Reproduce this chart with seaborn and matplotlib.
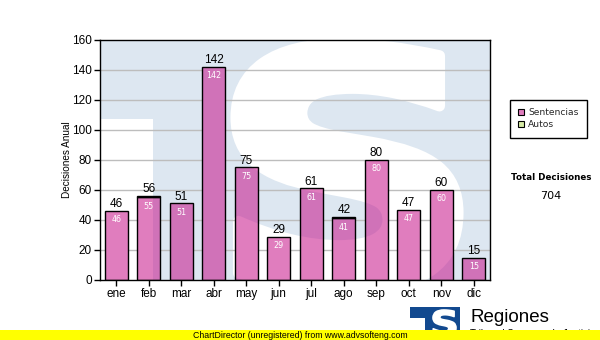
import matplotlib
matplotlib.use("Agg")
import matplotlib.pyplot as plt
import pandas as pd
import seaborn as sns
from matplotlib.textpath import TextPath
from matplotlib.font_manager import FontProperties
from matplotlib.patches import PathPatch, Rectangle, Patch
from matplotlib.transforms import Affine2D
from matplotlib.collections import LineCollection

# Monthly decisions
meses = ["ene", "feb", "mar", "abr", "may", "jun", "jul", "ago", "sep", "oct", "nov", "dic"]
sentencias = [46, 55, 51, 142, 75, 29, 61, 41, 80, 47, 60, 15]
autos = [0, 1, 0, 0, 0, 0, 0, 1, 0, 0, 0, 0]
totales = [s + a for s, a in zip(sentencias, autos)]
y_ticks = [0, 20, 40, 60, 80, 100, 120, 140, 160]
series_names = ["Sentencias", "Autos"]

PINK = (0.78, 0.07, 0.54, 0.55)
GREEN = (0.71, 0.86, 0.36, 0.55)
WALL = "#dde7f1"
BAR_W = 0.72

sns.set_theme(style="white")
plt.rcParams["font.family"] = ["Liberation Sans", "DejaVu Sans"]

fig = plt.figure(figsize=(6, 3.4), dpi=100)
fig.patch.set_facecolor("white")
ax = fig.add_axes([100 / 600, 60 / 340, 390 / 600, 240 / 340])


def s_glyph(x0, y0, x1, y1, transform, color, zorder, stroke=0.0):
    """Bold 'S' outline stretched into the box (x0, y0)-(x1, y1)."""
    tp = TextPath((0, 0), "S", size=1,
                  prop=FontProperties(family="DejaVu Sans", weight="bold"))
    ext = tp.get_extents()
    tr = (Affine2D().translate(-ext.x0, -ext.y0)
          .scale((x1 - x0) / ext.width, (y1 - y0) / ext.height)
          .translate(x0, y0))
    return PathPatch(tr.transform_path(tp), facecolor=color,
                     edgecolor=color if stroke else "none", linewidth=stroke,
                     joinstyle="round", transform=transform, zorder=zorder)


# Wallpaper logo inside the plot area (axes-fraction coordinates)
ax.set_facecolor(WALL)
ax.add_patch(Rectangle((0, 0), 53 / 390, 161 / 240, transform=ax.transAxes,
                       facecolor="white", edgecolor="none", zorder=0.5))
ax.add_patch(s_glyph(136 / 390, -10 / 240, 358 / 390, 236 / 240,
                     ax.transAxes, "white", 0.6, stroke=8))

df = pd.DataFrame({"mes": meses, "Sentencias": sentencias, "Autos": autos})

sns.barplot(data=df, x="mes", y="Sentencias", color="#c8208c", width=BAR_W,
            saturation=1, ax=ax, zorder=3)
sns.barplot(data=df, x="mes", y="Autos", bottom=df["Sentencias"], color="#b6dc5b",
            width=BAR_W, saturation=1, ax=ax, zorder=3)

sent_bars = list(ax.containers[0])
auto_bars = list(ax.containers[1])
for p in sent_bars:
    p.set_facecolor(PINK)
for p in auto_bars:
    p.set_facecolor(GREEN)
    if p.get_height() == 0:
        p.set_visible(False)
for p in sent_bars + auto_bars:
    p.set_edgecolor("black")
    p.set_linewidth(1.0)

ax.set_xlim(-0.5, len(meses) - 0.5)
ax.set_ylim(y_ticks[0], y_ticks[-1])
ax.set_yticks(y_ticks)
ax.grid(False)

# Horizontal grid lines, interrupted where a bar covers them
bars = [p for p in sent_bars + auto_bars if p.get_visible()]
segs = []
for yv in y_ticks[1:-1]:
    cuts = sorted((p.get_x(), p.get_x() + p.get_width()) for p in bars
                  if p.get_y() + p.get_height() >= yv and p.get_y() <= yv)
    start = -0.5
    for a, b in cuts:
        if a > start:
            segs.append([(start, yv), (a, yv)])
        start = max(start, b)
    if start < len(meses) - 0.5:
        segs.append([(start, yv), (len(meses) - 0.5, yv)])
ax.add_collection(LineCollection(segs, colors="#bdbdbd", linewidths=1.0, zorder=2))

# Value labels
for i, (t, s) in enumerate(zip(totales, sentencias)):
    ax.annotate(str(t), (i, t), xytext=(0, 0.5), textcoords="offset points",
                ha="center", va="bottom", fontsize=8.5, color="black", zorder=6)
    ax.annotate(str(s), (i, s), xytext=(0, -3), textcoords="offset points",
                ha="center", va="top", fontsize=5.8, color="white",
                family="DejaVu Sans", zorder=6)

for sp in ax.spines.values():
    sp.set_visible(True)
    sp.set_color("black")
    sp.set_linewidth(1.0)
    sp.set_zorder(7)

ax.tick_params(axis="both", which="both", direction="out", length=4, width=1,
               color="black", labelsize=8.5, labelcolor="black", pad=2,
               bottom=True, left=True)
ax.set_xlabel("")
ax.set_ylabel("Decisiones Anual", fontsize=7.2, color="black")
ax.yaxis.set_label_coords(-28 / 390, 0.5)

# Legend
handles = [Patch(facecolor=PINK, edgecolor="black", linewidth=0.8),
           Patch(facecolor=GREEN, edgecolor="black", linewidth=0.8)]
leg = fig.legend(handles, series_names, loc="upper left",
                 bbox_to_anchor=(510 / 600, 1 - 100 / 340),
                 frameon=True, fancybox=False, framealpha=1, edgecolor="black",
                 prop=FontProperties(family="DejaVu Sans", size=6.6),
                 handlelength=0.65, handleheight=0.65, handletextpad=0.45,
                 labelspacing=0.35, borderpad=0.9, borderaxespad=0)
leg.get_frame().set_linewidth(1.0)

# Grand total
fig.text(551 / 600, 1 - 178 / 340, "Total Decisiones", ha="center", va="center",
         fontsize=6.3, fontweight="bold", family="DejaVu Sans", color="black")
fig.text(551 / 600, 1 - 196 / 340, str(sum(totales)), ha="center", va="center",
         fontsize=8, family="DejaVu Sans", color="black")

# Footer logo
fig.patches.append(Rectangle((410 / 600, 5 / 340), 50 / 600, 28 / 340,
                             transform=fig.transFigure, facecolor="#12498f",
                             edgecolor="none", zorder=2))
fig.patches.append(Rectangle((410 / 600, 5 / 340), 15 / 600, 17 / 340,
                             transform=fig.transFigure, facecolor="white",
                             edgecolor="none", zorder=3))
fig.patches.append(s_glyph(433 / 600, 4 / 340, 456 / 600, 30 / 340,
                           fig.transFigure, "white", 4, stroke=1.2))
fig.text(470 / 600, 1 - 322 / 340, "Regiones", ha="left", va="baseline",
         fontsize=13.5, color="black", zorder=3)
fig.text(470 / 600, 1 - 337 / 340, "Tribunal Supremo de Justicia", ha="left",
         va="baseline", fontsize=7, color="black", zorder=3)

# Footer band
fig.patches.append(Rectangle((0, 0), 1, 10 / 340, transform=fig.transFigure,
                             facecolor="#ffff00", edgecolor="none", zorder=10))
fig.text(300 / 600, 5 / 340, "ChartDirector (unregistered) from www.advsofteng.com",
         ha="center", va="center", fontsize=6.3, color="black", zorder=11)

fig.savefig("out.png", dpi=100)
